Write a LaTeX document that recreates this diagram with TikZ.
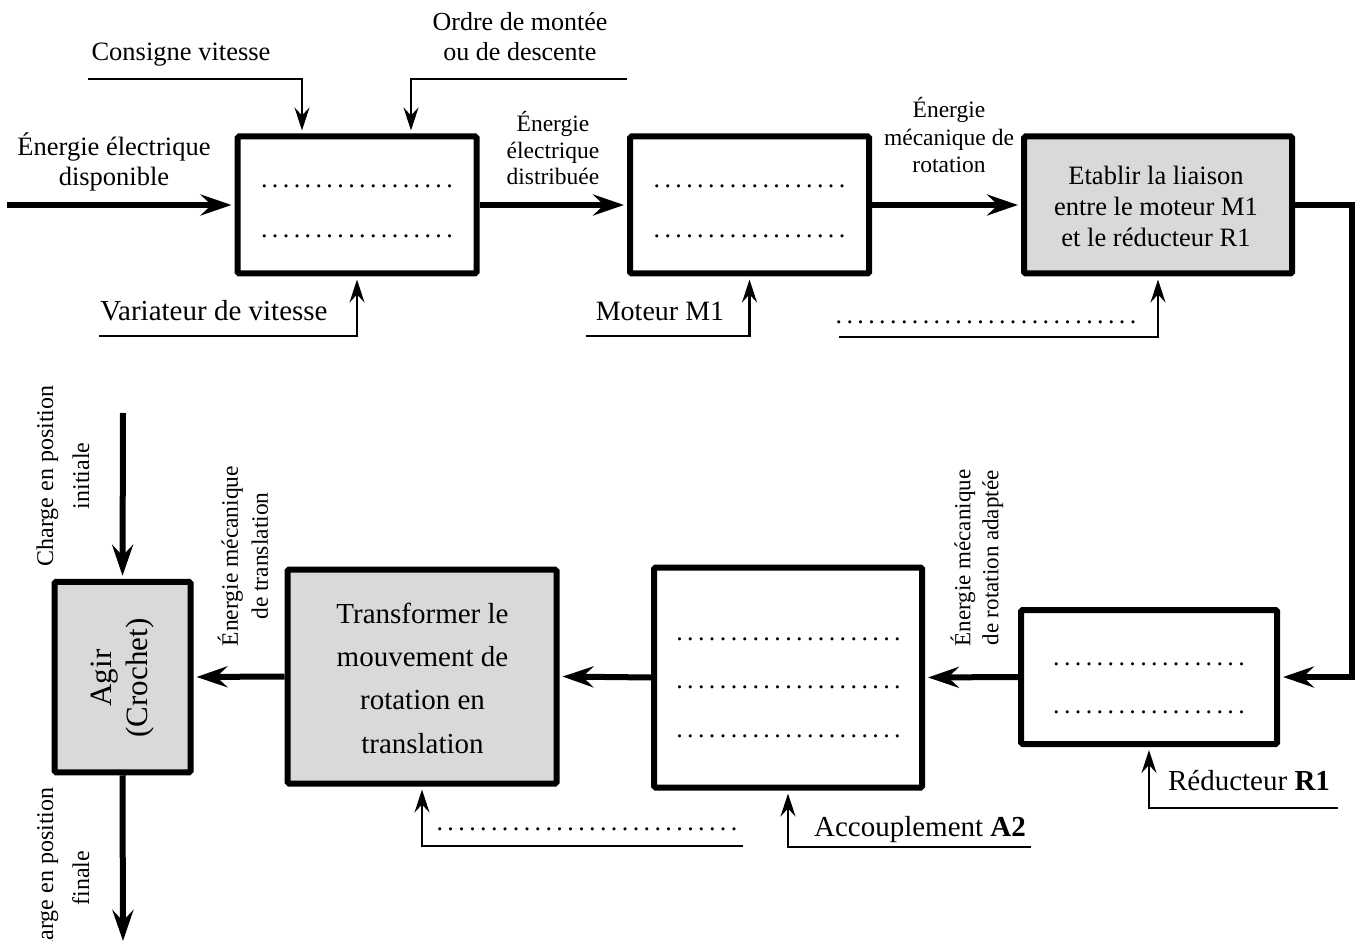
\documentclass[tikz,border=0pt]{standalone}
\usepackage{fontspec}
\setmainfont{Liberation Serif}
\usetikzlibrary{arrows.meta}
\newcount\dcnt
\newcommand\dotrow[1]{\dcnt=0\relax\loop\makebox[10.9pt]{.}\advance\dcnt by 1\relax\ifnum\dcnt<#1\repeat}
\newcommand\fsz[2]{\fontsize{#1}{#2}\selectfont}
\definecolor{boxgray}{RGB}{217,217,217}
\tikzset{
  blockbox/.style={draw, line width=6pt, rounded corners=1.5pt, inner sep=0pt},
  graybox/.style={blockbox, fill=boxgray},
  flowarrow/.style={line width=6pt, -{Stealth[length=31pt,width=21pt,inset=11pt]}, shorten >=3pt},
  sigarrow/.style={line width=2.4pt, -{Stealth[length=23pt,width=15pt,inset=8pt]}, shorten >=3pt},
  lbl/.style={inner sep=0pt, anchor=base, align=center},
  rlbl/.style={inner sep=0pt, align=center, rotate=90}
}
\begin{document}
\begin{tikzpicture}[x=1pt,y=-1pt]
\useasboundingbox (0,0) rectangle (1360,941);

% boxes
\node[blockbox, minimum width=239pt, minimum height=137pt] (b1) at (357,205) {};
\node[blockbox, minimum width=239pt, minimum height=137pt] (b2) at (749.5,205) {};
\node[graybox, minimum width=268pt, minimum height=137pt] (b3) at (1158,205) {};
\node[blockbox, minimum width=256pt, minimum height=134pt] (b4) at (1149,677) {};
\node[blockbox, minimum width=268pt, minimum height=220pt] (b5) at (788,677.5) {};
\node[graybox, minimum width=269pt, minimum height=214pt] (b6) at (422,676.5) {};
\node[graybox, minimum width=136pt, minimum height=190.5pt] (b7) at (122.5,677) {};

% free ends
\coordinate (e0) at (7,205);
\coordinate (cR) at (1352,440);
\coordinate (ci) at (123,413);
\coordinate (cf) at (123,941);
\coordinate (cons) at (88,79);
\coordinate (ord) at (627,79);
\coordinate (var) at (99,336);
\coordinate (mot) at (586,336);
\coordinate (dl3) at (839,337);
\coordinate (red) at (1338,808);
\coordinate (acc) at (1031,847);
\coordinate (dl6) at (743,846);

% energy flow
\draw[flowarrow] (e0) -- (b1.west);
\draw[flowarrow] (b1.east) -- (b2.west);
\draw[flowarrow] (b2.east) -- (b3.west);
\draw[flowarrow] (b3.east) -| (cR) |- (b4.east);
\draw[flowarrow] (b4.west) -- (b5.east);
\draw[flowarrow] (b5.west) -- (b6.east);
\draw[flowarrow] (b6.west) -- (b7.east);
\draw[flowarrow] (ci) -- (b7.north);
\draw[flowarrow, shorten >=0pt] (b7.south) -- (cf);

% control inputs
\draw[sigarrow] (cons) -| ([xshift=-55pt]b1.north);
\draw[sigarrow] (ord) -| ([xshift=54pt]b1.north);
\draw[sigarrow] (var) -| (b1.south);
\draw[sigarrow] (mot) -| (b2.south);
\draw[sigarrow] (dl3) -| (b3.south);
\draw[sigarrow] (red) -| (b4.south);
\draw[sigarrow] (acc) -| (b5.south);
\draw[sigarrow] (dl6) -| (b6.south);

% labels (anchor base = baseline of last line)
\node[lbl, font=\fsz{26.5}{30}] (tcons) at (181,61) {Consigne vitesse};
\node[lbl, font=\fsz{26}{30}] (tord) at (520,60.5) {Ordre de montée\\ou de descente};
\node[lbl, font=\fsz{26.5}{30}] (tedisp) at (114,186) {Énergie électrique\\disponible};
\node[lbl, font=\fsz{23.5}{26.5}] (tedist) at (553,185) {Énergie\\électrique\\distribuée};
\node[lbl, font=\fsz{23.5}{27.5}] (temeca) at (949,173) {Énergie\\mécanique de\\rotation};
\node[lbl, font=\fsz{29}{33}] (tvar) at (214,320) {Variateur de vitesse};
\node[lbl, font=\fsz{28}{32}] (tmot) at (660,320) {Moteur M1};
\node[lbl, font=\fsz{26.5}{31}] (t3) at (1156,247) {Etablir la liaison\\entre le moteur M1\\et le réducteur R1};
\node[lbl, font=\fsz{26}{50}] (d1) at (357,237.5) {\dotrow{18}\\\dotrow{18}};
\node[lbl, font=\fsz{26}{50}] (d2) at (749.5,237.5) {\dotrow{18}\\\dotrow{18}};
\node[lbl, font=\fsz{26}{30}] (d3) at (986,323.5) {\dotrow{28}};
\node[lbl, font=\fsz{29}{33}] (tred) at (1249,790) {Réducteur \textbf{R1}};
\node[lbl, font=\fsz{29}{33}] (tacc) at (920,836) {Accouplement \textbf{A2}};
\node[lbl, font=\fsz{26}{30}] (d6) at (587,830.5) {\dotrow{28}};
\node[lbl, font=\fsz{26}{48}] (d4) at (1149,713) {\dotrow{18}\\\dotrow{18}};
\node[lbl, font=\fsz{26}{48.5}] (d5) at (788.5,737) {\dotrow{21}\\\dotrow{21}\\\dotrow{21}};
\node[lbl, font=\fsz{29}{43.3}] (t6) at (422.5,753) {Transformer le\\mouvement de\\rotation en\\translation};
\node[rlbl, font=\fsz{31}{36}] (t7) at (123,678) {Agir\\(Crochet)};
\node[rlbl, font=\fsz{23.5}{30}] (tetr) at (243,556) {Énergie mécanique\\de translation};
\node[rlbl, font=\fsz{23}{28}] (temra) at (977,558) {Énergie mécanique\\de rotation adaptée};
\node[rlbl, font=\fsz{24}{36}] (tci) at (63,476) {Charge en position\\initiale};
\node[rlbl, font=\fsz{24}{36}] (tcf) at (63,878) {Charge en position\\finale};
\end{tikzpicture}
\end{document}
